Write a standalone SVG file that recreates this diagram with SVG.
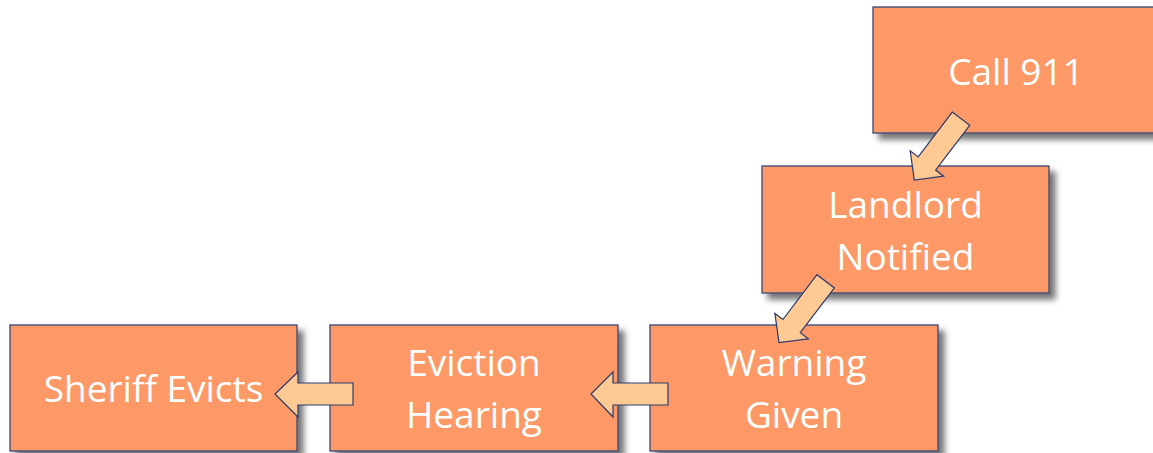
<svg xmlns="http://www.w3.org/2000/svg" width="1153" height="453" viewBox="0 0 1153 453">
<defs>
<filter id="sh" x="-10%" y="-10%" width="130%" height="130%">
<feGaussianBlur in="SourceAlpha" stdDeviation="3"/>
<feOffset dx="6" dy="6" result="b"/>
<feComponentTransfer><feFuncA type="linear" slope="0.55"/></feComponentTransfer>
<feMerge><feMergeNode/><feMergeNode in="SourceGraphic"/></feMerge>
</filter>
<style>
.box{fill:#FC9966;stroke:#3A4677;stroke-width:1.3;filter:url(#sh)}
.t{font-family:"Open Sans","Noto Sans",sans-serif;font-size:37px;fill:#ffffff;text-anchor:middle}
.ar{fill:#FFC993;stroke:#2B3A6E;stroke-width:1.2;stroke-linejoin:miter}
</style>
</defs>
<rect width="1153" height="453" fill="#ffffff"/>
<g id="call911">
<rect class="box" x="873" y="7" width="287" height="126"/>
<text class="t" x="1016" y="85">Call 911</text>
</g>
<g id="landlord">
<rect class="box" x="762" y="166" width="287" height="127"/>
<text class="t" x="905.5" y="218">Landlord</text>
<text class="t" x="905.5" y="270">Notified</text>
</g>
<g id="warning">
<rect class="box" x="650" y="325" width="288" height="126"/>
<text class="t" x="794" y="376">Warning</text>
<text class="t" x="794" y="428">Given</text>
</g>
<g id="hearing">
<rect class="box" x="330" y="325" width="288" height="126"/>
<text class="t" x="474" y="376">Eviction</text>
<text class="t" x="474" y="428">Hearing</text>
</g>
<g id="sheriff">
<rect class="box" x="10" y="325" width="287" height="126"/>
<text class="t" x="153.5" y="402">Sheriff Evicts</text>
</g>
<g id="connectors">
<polygon class="ar" points="952.3,112.1 969.7,125.3 935.6,170.1 943.6,176.2 914.3,180 910.2,150.8 918.2,156.9"/>
<polygon class="ar" points="817,274.7 834.4,287.9 800.3,332.7 808.3,338.8 779,342.6 774.9,313.4 782.9,319.5"/>
<polygon class="ar" points="668,383 668,405 613,405 613,417 591,394 613,372 613,383"/>
<polygon class="ar" points="353,383 353,405 298,405 298,417 275,394 298,372 298,383"/>
</g>
</svg>
